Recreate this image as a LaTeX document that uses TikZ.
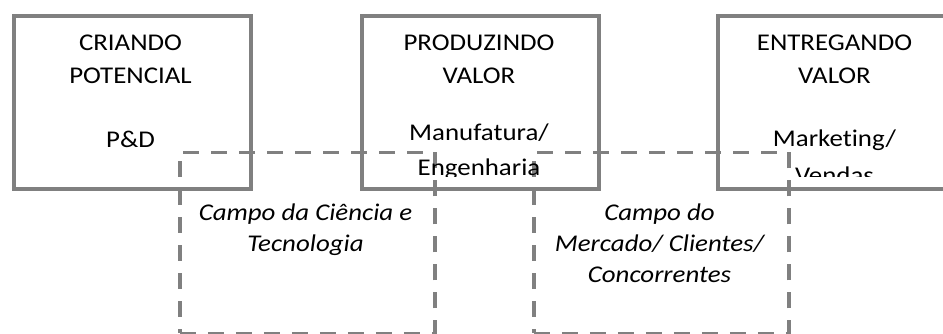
\documentclass[tikz,border=0pt]{standalone}
\usepackage{fontspec}
\setmainfont{Carlito}[FakeStretch=1.12,Ligatures=NoCommon]
\begin{document}
\begin{tikzpicture}[x=1pt,y=-1pt,
  solidbox/.style={draw=boxgray,line width=3.5pt,minimum width=237pt,minimum height=173pt,inner sep=0pt,anchor=north west},
  dashbox/.style={draw=boxgray,line width=3.5pt,dash pattern=on 16pt off 12pt,minimum width=255pt,minimum height=181pt,inner sep=0pt,anchor=north west},
  boxtxt/.style={anchor=base,inner sep=0pt,font=\fontsize{24}{33}\selectfont},
  fieldtxt/.style={anchor=base,inner sep=0pt,font=\fontsize{24}{32}\selectfont\itshape}]
\definecolor{boxgray}{RGB}{128,128,128}
\useasboundingbox (0,0) rectangle (943,333);
% solid boxes
\node[solidbox] (b1) at (12,14) {};
\node[solidbox] (b2) at (360,14) {};
\node[solidbox] (b3) at (716,14) {};
% dashed boxes
\node[dashbox] (d1) at (178,150.5) {};
\node[dashbox] (d2) at (532,150.5) {};
% texts of box 1
\begin{scope}
\clip (12,0) rectangle (250,176.7);
\node[boxtxt] (t1a) at (130.5,50) {CRIANDO};
\node[boxtxt] (t1b) at (130.5,83.5) {POTENCIAL};
\node[boxtxt] (t1c) at (130.5,147.3) {P\&D};
\end{scope}
% texts of box 2
\begin{scope}
\clip (360,0) rectangle (598,176.7);
\node[boxtxt] (t2a) at (479,50) {PRODUZINDO};
\node[boxtxt] (t2b) at (479,83.5) {VALOR};
\node[boxtxt] (t2c) at (479,140) {Manufatura/};
\node[boxtxt] (t2d) at (479,175.5) {Engenharia};
\end{scope}
% texts of box 3
\begin{scope}
\clip (716,0) rectangle (943,176.7);
\node[boxtxt] (t3a) at (834.5,50) {ENTREGANDO};
\node[boxtxt] (t3b) at (834.5,83.5) {VALOR};
\node[boxtxt] (t3c) at (834.5,146.7) {Market\kern0pt ing/};
\node[boxtxt] (t3d) at (834.5,183) {Vendas};
\end{scope}
% field texts
\node[fieldtxt] (f1a) at (305.5,220) {Campo da Ciência e};
\node[fieldtxt] (f1b) at (305.5,251.5) {Tecnologia};
\node[fieldtxt] (f2a) at (659.5,220) {Campo do};
\node[fieldtxt] (f2b) at (659.5,251.5) {Mercado/ Clientes/};
\node[fieldtxt] (f2c) at (659.5,282.5) {Concorrentes};
\end{tikzpicture}
\end{document}
